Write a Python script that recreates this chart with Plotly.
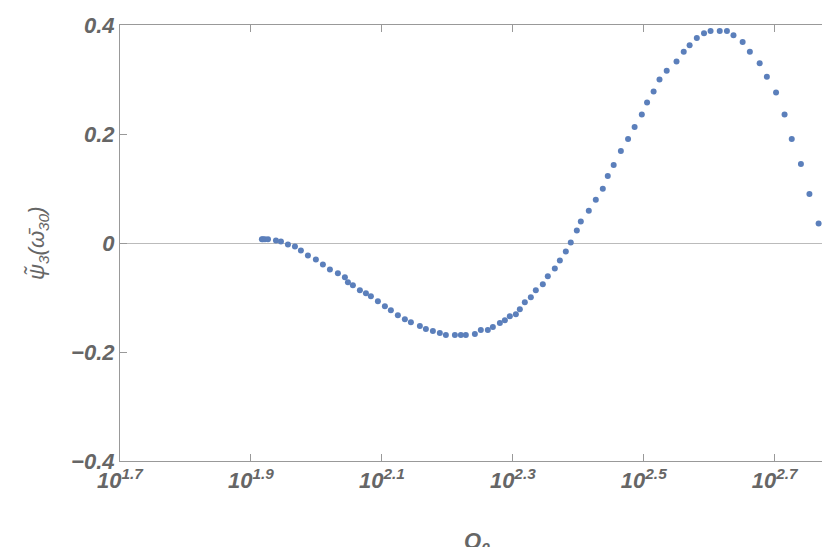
import plotly.graph_objects as go

# log10(Q0) positions and psi values
log_q = [1.9167, 1.9183, 1.9214, 1.9260, 1.9382, 1.9458, 1.9565, 1.9672, 1.9763, 1.9870,
         1.9992, 2.0099, 2.0206, 2.0328, 2.0435, 2.0481, 2.0557, 2.0664, 2.0756, 2.0832,
         2.0939, 2.1046, 2.1137, 2.1244, 2.1351, 2.1443, 2.1580, 2.1672, 2.1779, 2.1885,
         2.1977, 2.2115, 2.2206, 2.2282, 2.2420, 2.2511, 2.2618, 2.2695, 2.2802, 2.2878,
         2.2954, 2.3046, 2.3107, 2.3183, 2.3275, 2.3351, 2.3458, 2.3534, 2.3641, 2.3718,
         2.3809, 2.3885, 2.3977, 2.4038, 2.4160, 2.4267, 2.4374,
         2.445, 2.454, 2.465, 2.476, 2.486, 2.497, 2.505, 2.515, 2.524, 2.535,
         2.550, 2.561, 2.570, 2.581, 2.592, 2.602, 2.616, 2.627, 2.637, 2.651,
         2.662, 2.677, 2.688, 2.702, 2.715, 2.726, 2.740, 2.753, 2.767, 2.778]
psi = [0.0069, 0.0069, 0.0069, 0.0069, 0.0046, 0.0027, -0.0027, -0.0064, -0.0137, -0.0228,
       -0.0301, -0.0393, -0.0484, -0.0557, -0.0630, -0.0721, -0.0776, -0.0868, -0.0922, -0.0977,
       -0.1068, -0.1160, -0.1233, -0.1324, -0.1397, -0.1452, -0.1525, -0.1580, -0.1616, -0.1653,
       -0.1689, -0.1689, -0.1689, -0.1689, -0.1671, -0.1598, -0.1598, -0.1543, -0.1470, -0.1416,
       -0.1342, -0.1306, -0.1215, -0.1087, -0.0995, -0.0868, -0.0758, -0.0612, -0.0466, -0.0320,
       -0.0155, 0.0009, 0.0228, 0.0393, 0.0594, 0.0795, 0.0995,
       0.123, 0.143, 0.169, 0.191, 0.213, 0.236, 0.258, 0.278, 0.300, 0.316,
       0.333, 0.351, 0.363, 0.376, 0.385, 0.389, 0.389, 0.389, 0.381, 0.369,
       0.351, 0.330, 0.305, 0.276, 0.236, 0.191, 0.145, 0.090, 0.036, -0.028]

x_ticks = [1.7, 1.9, 2.1, 2.3, 2.5, 2.7]
x_labels = ["10<sup>%.1f</sup>" % t for t in x_ticks]
y_ticks = [-0.4, -0.2, 0, 0.2, 0.4]
y_labels = ["\u22120.4", "\u22120.2", "0", "0.2", "0.4"]

grey = "#666666"
fam = "Liberation Sans, Arial"

fig = go.Figure()
fig.add_trace(go.Scatter(
    x=[10 ** v for v in log_q], y=psi, mode="markers",
    marker=dict(color="#5b7fbb", size=6),
    cliponaxis=False,
    hovertemplate="Q0: %{x:.1f}<br>psi: %{y:.3f}<extra></extra>"
))

fig.update_layout(
    width=830, height=547,
    margin=dict(l=112, r=5, t=17, b=94),
    paper_bgcolor="white", plot_bgcolor="white",
    showlegend=False,
    font=dict(family=fam, size=20, color=grey),
    xaxis=dict(
        type="log", range=[1.7, 2.789], automargin=False,
        tickvals=[10 ** t for t in x_ticks],
        ticktext=["<b><i>%s</i></b>" % s for s in x_labels],
        ticks="inside", ticklen=7, tickcolor="#999999",
        showline=True, linecolor="#999999", mirror="ticks",
        showgrid=False, zeroline=False,
        tickfont=dict(size=22, color=grey, family=fam),
    ),
    yaxis=dict(
        range=[-0.4, 0.4], automargin=False,
        tickvals=y_ticks, ticktext=["<b><i>%s</i></b>" % s for s in y_labels],
        ticks="inside", ticklen=7, tickcolor="#999999",
        showline=True, linecolor="#999999", mirror="ticks",
        showgrid=False, zeroline=True, zerolinecolor="#bbbbbb", zerolinewidth=1,
        tickfont=dict(size=22, color=grey, family=fam),
    ),
    annotations=[
        dict(text="<i><b>Q<sub>0</sub></b></i>", xref="paper", yref="paper",
             x=0.5, y=-0.15, yanchor="top", showarrow=False,
             font=dict(size=22, color=grey, family=fam)),
        dict(text="<i>\u03c8\u0303<sub>3</sub>(\u03c9\u0304<sub>30</sub>)</i>",
             xref="paper", yref="paper", x=-0.115, y=0.5, textangle=-90,
             xanchor="center", showarrow=False,
             font=dict(size=22, color=grey, family=fam)),
    ],
)

fig.write_html("out.html")
